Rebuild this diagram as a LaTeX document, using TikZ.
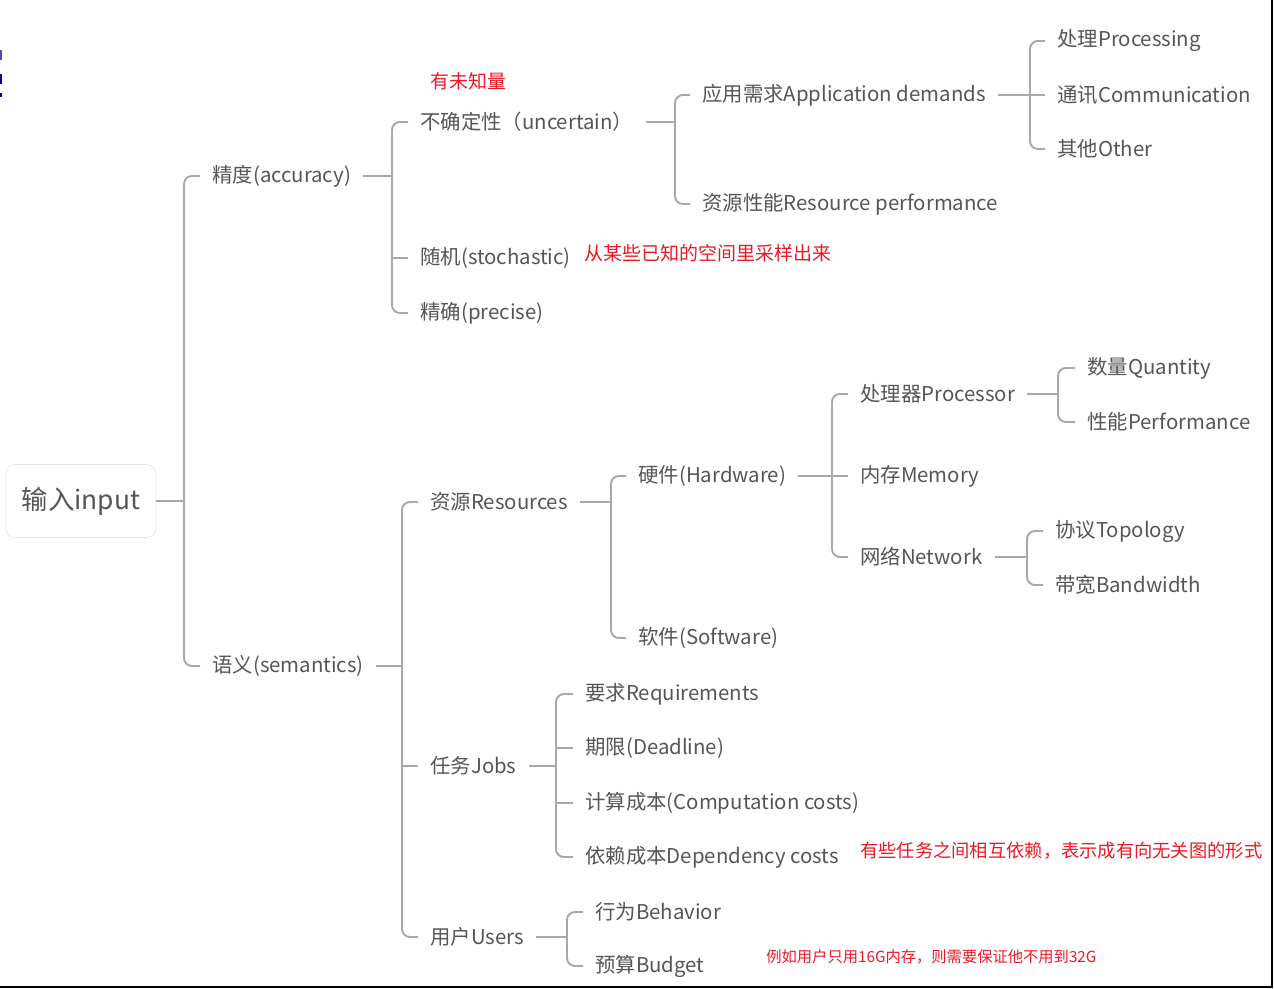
\documentclass[tikz,border=0pt]{standalone}
\usepackage{fontspec}
\setmainfont{Noto Sans CJK SC}
\definecolor{txtgray}{RGB}{85,85,85}
\definecolor{linegray}{RGB}{168,168,168}
\definecolor{notered}{RGB}{235,25,35}
\begin{document}
\begin{tikzpicture}[x=0.02cm,y=-0.02cm,
    item/.style={anchor=west,inner xsep=0.24cm,inner ysep=2pt,text=txtgray,font=\fontsize{11.6}{13}\selectfont},
    link/.style={draw=linegray,line width=1.1pt},
    bracket/.style={link,rounded corners=4.5pt},
    note/.style={anchor=west,inner sep=0pt,text=notered,font=\fontsize{10.8}{12}\selectfont}]
        \useasboundingbox (0,0) rectangle (1274,989);
        \clip (0,0) rectangle (1274,989);
        % frame edges and marks
        \draw[black,line width=1.2pt] (1272,0) -- (1272,987) -- (0,987);
        \fill[blue!40!gray] (0,50) rectangle (2,60);
        \fill[blue!60!black] (0,74) rectangle (2,84);
        \fill[blue!60!black] (0,93) rectangle (2,97);
        % root
        \node[draw=black!10,rounded corners=5pt,minimum width=3cm,minimum height=1.46cm,text=txtgray,font=\fontsize{15}{17}\selectfont] (root) at (81,501) {输入input};
        \coordinate (rootS) at (184,501);
        % level 1
        \node[item] (acc) at (200,176) {精度(accuracy)};
        \node[item] (sem) at (200,666) {语义(semantics)};
        \draw[link] (root.east) -- (rootS);
        \draw[bracket] (acc.west) -- (rootS |- acc) -- (rootS |- sem) -- (sem.west);
        % accuracy
        \node[item] (unc) at (408,122) {不确定性（uncertain）};
        \node[item] (sto) at (408,258) {随机(stochastic)};
        \node[item] (pre) at (408,313) {精确(precise)};
        \coordinate (accS) at (392,176);
        \draw[link] (acc.east) -- (accS);
        \draw[bracket] (unc.west) -- (accS |- unc) -- (accS |- pre) -- (pre.west);
        \draw[link] (accS |- sto) -- (sto.west);
        \node[note] (n1) at (430,81) {有未知量};
        \node[note] (n2) at (584,253) {从某些已知的空间里采样出来};
        % uncertain
        \node[item] (app) at (690,95) {应用需求Application demands};
        \node[item] (rp) at (690,204) {资源性能Resource performance};
        \coordinate (uncS) at (675,122);
        \draw[link] (unc.east) -- (uncS);
        \draw[bracket] (app.west) -- (uncS |- app) -- (uncS |- rp) -- (rp.west);
        % application demands
        \node[item] (proc) at (1045,41) {处理Processing};
        \node[item] (comm) at (1045,95) {通讯Communication};
        \node[item] (oth) at (1045,149) {其他Other};
        \coordinate (appS) at (1030,95);
        \draw[link] (app.east) -- (appS);
        \draw[bracket] (proc.west) -- (appS |- proc) -- (appS |- oth) -- (oth.west);
        \draw[link] (appS |- comm) -- (comm.west);
        % semantics
        \node[item] (res) at (418,502) {资源Resources};
        \node[item] (job) at (418,766) {任务Jobs};
        \node[item] (usr) at (418,937) {用户Users};
        \coordinate (semS) at (402,666);
        \draw[link] (sem.east) -- (semS);
        \draw[bracket] (res.west) -- (semS |- res) -- (semS |- usr) -- (usr.west);
        \draw[link] (semS |- job) -- (job.west);
        % resources
        \node[item] (hw) at (626,476) {硬件(Hardware)};
        \node[item] (sw) at (626,638) {软件(Software)};
        \coordinate (resS) at (611,502);
        \draw[link] (res.east) -- (resS);
        \draw[bracket] (hw.west) -- (resS |- hw) -- (resS |- sw) -- (sw.west);
        % hardware
        \node[item] (cpu) at (848,394) {处理器Processor};
        \node[item] (mem) at (848,476) {内存Memory};
        \node[item] (net) at (848,557) {网络Network};
        \coordinate (hwS) at (832,476);
        \draw[link] (hw.east) -- (hwS);
        \draw[bracket] (cpu.west) -- (hwS |- cpu) -- (hwS |- net) -- (net.west);
        \draw[link] (hwS |- mem) -- (mem.west);
        % processor
        \node[item] (qty) at (1075,368) {数量Quantity};
        \node[item] (perf) at (1075,422) {性能Performance};
        \coordinate (cpuS) at (1058,394);
        \draw[link] (cpu.east) -- (cpuS);
        \draw[bracket] (qty.west) -- (cpuS |- qty) -- (cpuS |- perf) -- (perf.west);
        % network
        \node[item] (topo) at (1043,531) {协议Topology};
        \node[item] (bw) at (1043,585) {带宽Bandwidth};
        \coordinate (netS) at (1027,557);
        \draw[link] (net.east) -- (netS);
        \draw[bracket] (topo.west) -- (netS |- topo) -- (netS |- bw) -- (bw.west);
        % jobs
        \node[item] (req) at (573,694) {要求Requirements};
        \node[item] (ddl) at (573,748) {期限(Deadline)};
        \node[item] (comp) at (573,803) {计算成本(Computation costs)};
        \node[item] (dep) at (573,857) {依赖成本Dependency costs};
        \coordinate (jobS) at (556,766);
        \draw[link] (job.east) -- (jobS);
        \draw[bracket] (req.west) -- (jobS |- req) -- (jobS |- dep) -- (dep.west);
        \draw[link] (jobS |- ddl) -- (ddl.west);
        \draw[link] (jobS |- comp) -- (comp.west);
        \node[note,font=\fontsize{10.4}{12}\selectfont] (n3) at (860,851) {有些任务之间相互依赖，表示成有向无关图的形式};
        % users
        \node[item] (beh) at (583,912) {行为Behavior};
        \node[item] (bud) at (583,966) {预算Budget};
        \coordinate (usrS) at (567,937);
        \draw[link] (usr.east) -- (usrS);
        \draw[bracket] (beh.west) -- (usrS |- beh) -- (usrS |- bud) -- (bud.west);
        \node[note,font=\fontsize{8.7}{10}\selectfont] (n4) at (766,957) {例如用户只用16G内存，则需要保证他不用到32G};
      \end{tikzpicture}
\end{document}
